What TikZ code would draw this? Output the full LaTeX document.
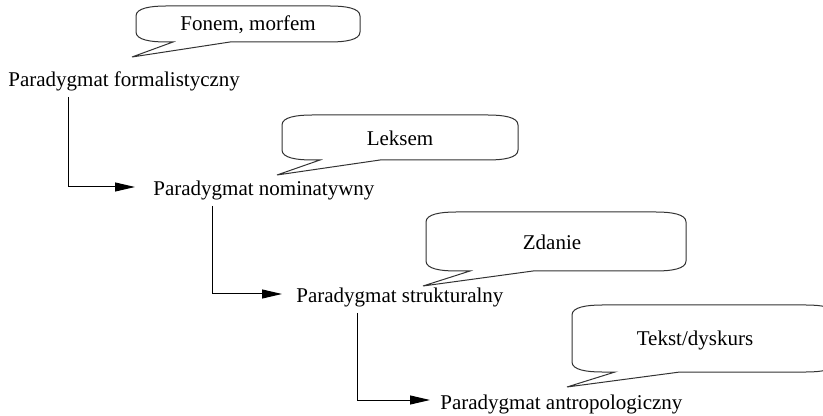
\documentclass[tikz,border=0pt]{standalone}
\usepackage{fontspec}
\setmainfont{Liberation Serif}
\usetikzlibrary{arrows.meta}

% speech bubble: left, top, right, bottom, pointer base 1, pointer base 2, tip x, tip y
\newcommand{\bubble}[8]{%
  \draw[bubbleline] (#1,#2+10) .. controls (#1,#2+2) and (#1+15,#2) .. (#1+30,#2)
    -- (#3-30,#2) .. controls (#3-15,#2) and (#3,#2+2) .. (#3,#2+10)
    -- (#3,#4-10) .. controls (#3,#4-2) and (#3-15,#4) .. (#3-30,#4)
    -- (#6,#4) -- (#7,#8) -- (#5,#4)
    -- (#1+30,#4) .. controls (#1+15,#4) and (#1,#4-2) .. (#1,#4-10) -- cycle;}

\begin{document}
\begin{tikzpicture}[x=0.5pt,y=-0.5pt,
  font=\fontsize{10.5}{12}\selectfont,
  paradigm/.style={anchor=base west,inner xsep=0pt,inner ysep=2.5pt},
  bubbleline/.style={line width=0.5pt,black!80},
  arr/.style={line width=0.5pt,-{Triangle[length=10pt,width=4.5pt]}}]

\useasboundingbox (0,0) rectangle (823,416);
\clip (0,0) rectangle (823,416);

% paradigms
\node[paradigm] (p1) at (8,87) {Paradygmat formalistyczny};
\node[paradigm] (p2) at (153,196) {Paradygmat nominatywny};
\node[paradigm] (p3) at (296,303) {Paradygmat strukturalny};
\node[paradigm] (p4) at (440,409) {Paradygmat antropologiczny};

% connectors
\draw[arr] ([xshift=30pt]p1.south west) |- ([xshift=-9pt,yshift=4.5pt]p2.base west);
\draw[arr] ([xshift=29.5pt]p2.south west) |- ([xshift=-7pt,yshift=4.5pt]p3.base west);
\draw[arr] ([xshift=30.5pt]p3.south west) |- ([xshift=-5pt,yshift=4.5pt]p4.base west);

% bubbles
\bubble{136}{6}{360}{42}{173}{230}{132}{57}
\bubble{282}{115}{518}{160}{320}{380}{277}{175}
\bubble{426}{212}{686}{271}{470}{533}{423}{286}
\bubble{572}{305}{836}{372}{615}{680}{567}{387}

% bubble texts
\node (b1) at (248,25) {Fonem, morfem};
\node (b2) at (400,138) {Leksem};
\node (b3) at (552,242) {Zdanie};
\node (b4) at (695,340) {Tekst/dyskurs};

\end{tikzpicture}
\end{document}
